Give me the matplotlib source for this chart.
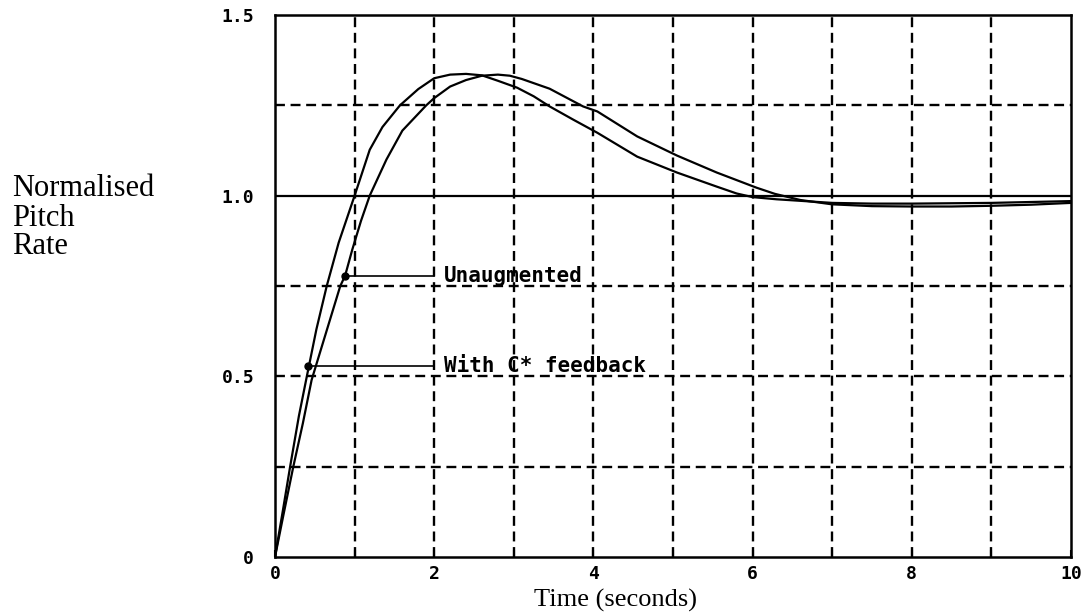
import matplotlib
matplotlib.use("Agg")
import matplotlib.pyplot as plt

# ---- data ----
t_cstar = [0, 0.1, 0.19, 0.30, 0.40, 0.52, 0.65, 0.80, 1.0, 1.19, 1.35, 1.57, 1.8, 2.0, 2.2,
           2.4, 2.6, 2.8, 3.04, 3.25, 3.45, 3.75, 4.05, 4.55, 5.05, 5.55, 5.8, 6.0, 6.3, 7.0, 7.5,
           8.0, 9.0, 10.0]
y_cstar = [0, 0.13, 0.25, 0.39, 0.50, 0.63, 0.75, 0.87, 1.0, 1.127, 1.19, 1.25, 1.295, 1.325, 1.335,
           1.337, 1.333, 1.318, 1.299, 1.275, 1.247, 1.21, 1.174, 1.108, 1.064, 1.025, 1.006, 0.996, 0.99, 0.98, 0.978,
           0.978, 0.98, 0.985]

t_unaug = [0, 0.1, 0.23, 0.35, 0.46, 0.64, 0.82, 0.88, 0.97, 1.08, 1.19, 1.4, 1.6, 1.9, 2.0, 2.2,
           2.4, 2.6, 2.8, 2.95, 3.1, 3.45, 3.87, 4.05, 4.55, 5.05, 5.55, 6.05, 6.28, 6.6, 7.0,
           7.5, 8.0, 8.5, 9.0, 9.5, 10.0]
y_unaug = [0, 0.11, 0.25, 0.37, 0.49, 0.62, 0.75, 0.778, 0.85, 0.93, 1.0, 1.1, 1.18, 1.25, 1.27, 1.302,
           1.32, 1.332, 1.335, 1.332, 1.323, 1.296, 1.247, 1.233, 1.164, 1.111, 1.064, 1.022, 1.005, 0.988, 0.976,
           0.971, 0.97, 0.97, 0.972, 0.975, 0.98]

label_texts = ["Unaugmented", "With C* feedback"]
label_t = [0.88, 0.42]
label_y = [0.778, 0.529]
label_line_end = 2.0
label_text_t = 2.12

x_ticks = [0, 2, 4, 6, 8, 10]
y_ticks = [0, 0.5, 1.0, 1.5]
y_tick_labels = ["0", "0.5", "1.0", "1.5"]
v_grid = [1, 2, 3, 4, 5, 6, 7, 8, 9]
h_grid = [0.25, 0.5, 0.75, 1.25]
ref_level = 1.0

# ---- figure ----
fig = plt.figure(figsize=(10.88, 6.16), dpi=100)
ax = fig.add_axes([275 / 1088, 1 - 557 / 616, 796 / 1088, 542 / 616])
ax.set_xlim(0, 10)
ax.set_ylim(0, 1.5)

mono = "DejaVu Sans Mono"
serif = "Liberation Serif"

for xv in v_grid:
    ax.axvline(xv, color="black", lw=1.7, dashes=(4.2, 2.4), zorder=1)
for yv in h_grid:
    ax.axhline(yv, color="black", lw=1.7, dashes=(4.2, 2.4), zorder=1)
ax.axhline(ref_level, color="black", lw=1.6, zorder=2)

ax.plot(t_cstar, y_cstar, color="black", lw=1.6, zorder=3)
ax.plot(t_unaug, y_unaug, color="black", lw=1.6, zorder=3)

for txt, lt, ly in zip(label_texts, label_t, label_y):
    ax.plot([lt, label_line_end], [ly, ly], color="black", lw=1.2, zorder=4)
    ax.plot([lt], [ly], "o", color="black", ms=5, zorder=5)
    ax.text(label_text_t, ly, txt, family=mono, fontweight="bold", fontsize=15,
            va="center", ha="left", zorder=6)

for s in ax.spines.values():
    s.set_linewidth(1.8)

ax.set_xticks(x_ticks)
ax.set_xticklabels([str(v) for v in x_ticks])
ax.set_xticks([1, 3, 5, 7, 9], minor=True)
ax.tick_params(axis="x", which="both", direction="in", length=5, width=1.5, pad=6)
ax.set_yticks(y_ticks)
ax.set_yticklabels(y_tick_labels)
ax.tick_params(axis="y", which="both", length=0, pad=15)
for lab in ax.get_xticklabels() + ax.get_yticklabels():
    lab.set_family(mono)
    lab.set_fontweight("bold")
    lab.set_fontsize(13)

fig.text(12 / 1088, 1 - 218 / 616, "Normalised\nPitch\nRate", family=serif, fontsize=22,
         ha="left", va="center", linespacing=1.0)
fig.text(615 / 1088, 1 - 600 / 616, "Time (seconds)", family=serif, fontsize=19,
         ha="center", va="center")

fig.savefig("out.png", dpi=100)
